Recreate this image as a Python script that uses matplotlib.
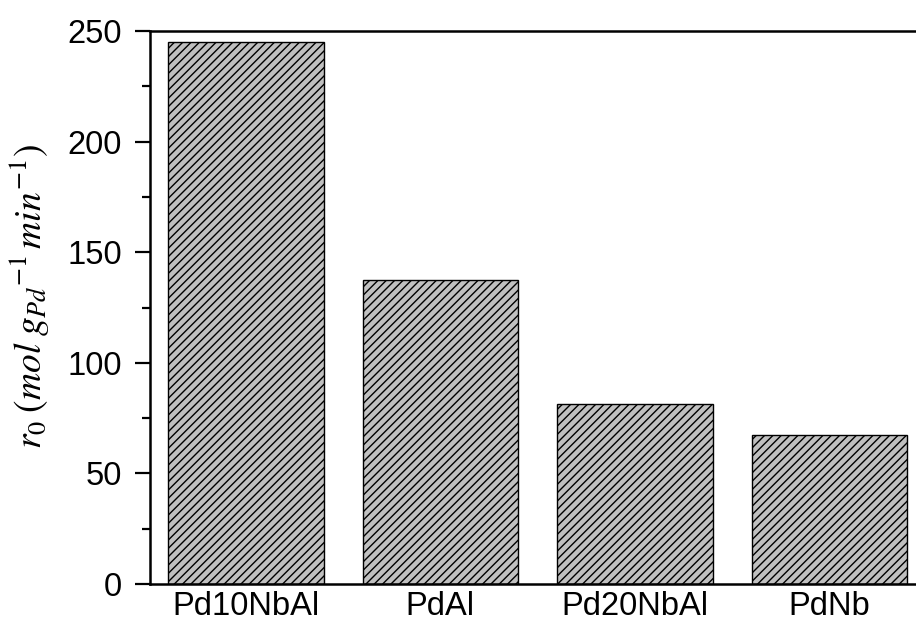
import matplotlib
matplotlib.use('Agg')
import matplotlib.pyplot as plt
from matplotlib.ticker import MultipleLocator

samples = ['Pd10NbAl', 'PdAl', 'Pd20NbAl', 'PdNb']
r0 = [245.2, 137.4, 81.4, 67.4]

plt.rcParams['font.family'] = ['Liberation Sans', 'DejaVu Sans']
plt.rcParams['mathtext.fontset'] = 'stix'
plt.rcParams['hatch.linewidth'] = 1.0

fig = plt.figure(figsize=(9.16, 6.23), dpi=100)
ax = fig.add_axes([150/916, 39/623, 800/916, 553/623])

x = list(range(len(samples)))
ax.bar(x, r0, width=0.8, color='#c0c0c0', edgecolor='black',
       linewidth=1.0, hatch='////')

ax.set_xlim(-0.4925, 3.62)
ax.set_ylim(0, 250)
ax.set_xticks(x)
ax.set_xticklabels(samples, fontsize=23.5)
ax.tick_params(axis='x', length=0, pad=5)

ax.yaxis.set_major_locator(MultipleLocator(50))
ax.yaxis.set_minor_locator(MultipleLocator(25))
ax.tick_params(axis='y', which='major', length=11, width=1.6, labelsize=23.5, pad=9)
ax.tick_params(axis='y', which='minor', length=6, width=1.6)

for s in ['left', 'bottom', 'top', 'right']:
    ax.spines[s].set_linewidth(1.8)
ax.spines['right'].set_visible(False)

ax.set_ylabel(r'$r_0\;(mol\;g_{Pd}{}^{-1}\,min^{-1})$', fontsize=27)
ax.yaxis.set_label_coords(-0.122, 0.52)

fig.savefig('out.png', dpi=100)
